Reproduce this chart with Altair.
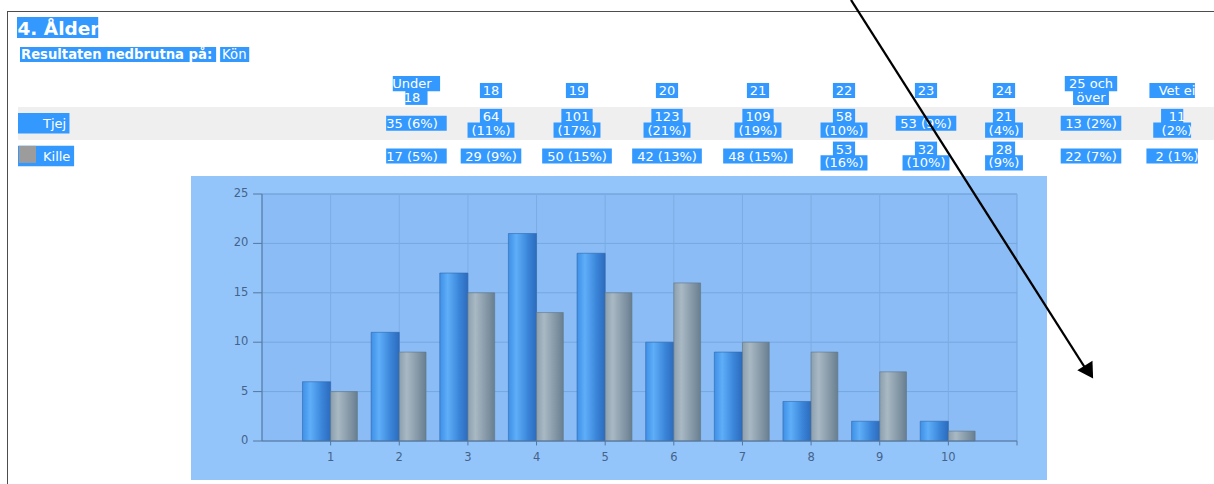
import altair as alt
import pandas as pd

# ---------------- values read from the page ----------------
ages = ["Under 18", "18", "19", "20", "21", "22", "23", "24", "25 och över", "Vet ei"]
groups = ["Tjej", "Kille"]
tjej_n = [35, 64, 101, 123, 109, 58, 53, 21, 13, 11]
tjej_pct = [6, 11, 17, 21, 19, 10, 9, 4, 2, 2]
kille_n = [17, 29, 50, 42, 48, 53, 32, 28, 22, 2]
kille_pct = [5, 9, 15, 13, 15, 16, 10, 9, 7, 1]
chart_categories = [1, 2, 3, 4, 5, 6, 7, 8, 9, 10]
y_ticks = [0, 5, 10, 15, 20, 25]

title_text = "4. Ålder"
subtitle_label = "Resultaten nedbrutna på:"
subtitle_value = "Kön"

# ---------------- layout (how the page wraps and places things) ----------------
tjej_wrap = [False, True, True, True, True, True, False, True, False, True]
kille_wrap = [False, False, False, False, False, True, True, True, False, False]
col_centers = [412, 491, 577, 667, 758, 844, 926, 1004, 1091, 1177]

FONT = "DejaVu Sans"
SEL = "#3399ff"
TFS = 13  # table font size

ADV = {c: 0.636 for c in "0123456789"}
ADV.update({" ": 0.318, "(": 0.39, ")": 0.39, "%": 0.95, "U": 0.732, "n": 0.634,
            "d": 0.635, "e": 0.615, "r": 0.411, "o": 0.612, "c": 0.55, "h": 0.634,
            "ö": 0.612, "v": 0.592, "V": 0.684, "t": 0.392, "i": 0.278, "T": 0.611,
            "j": 0.278, "K": 0.656, "l": 0.278, "å": 0.613, "p": 0.635, ":": 0.337,
            "R": 0.695, "s": 0.521, "u": 0.634, "a": 0.613, "b": 0.635, "Å": 0.684,
            ".": 0.318})


def text_width(s, size, bold=False):
    return sum(ADV.get(ch, 0.62) for ch in s) * size * (1.13 if bold else 1.0)


# ---------------- table rows ----------------
LINE = 0.21
HALF = 0.23
rows = []


def add_cell(col, row, lines):
    k = len(lines)
    for j, s in enumerate(lines):
        off = 0.0 if k == 1 else (-LINE if j == 0 else LINE)
        rows.append(dict(col=col, yv=row + off, ya=row + off - HALF, yb=row + off + HALF,
                         text=s, w=text_width(s, TFS) * 1.1 + 4))


def count_lines(n, p, wrap):
    return [f"{n}", f"({p}%)"] if wrap else [f"{n} ({p}%)"]


for i, a in enumerate(ages):
    add_cell(i, 0, a.rsplit(" ", 1) if len(a) > 6 else [a])
    add_cell(i, 1, count_lines(tjej_n[i], tjej_pct[i], tjej_wrap[i]))
    add_cell(i, 2, count_lines(kille_n[i], kille_pct[i], kille_wrap[i]))
table = pd.DataFrame(rows)

legend = pd.DataFrame({"group": groups, "row": [1, 2]})
legend["ya"] = legend["row"] - 0.31
legend["yb"] = legend["row"] + 0.31
legend["sa"] = legend["row"] - 0.31
legend["sb"] = legend["row"] + 0.21
legend["x0"] = 18
legend["tx"] = 43
legend["x1"] = [43 + text_width(g, TFS) * 1.1 + 1 for g in groups]

bars = pd.DataFrame({"cat": chart_categories * 2,
                     "pct": tjej_pct + kille_pct,
                     "group": ["Tjej"] * 10 + ["Kille"] * 10})


# ---------------- scales ----------------
def XS():
    return alt.Scale(domain=[0, 11], range=[262, 1017], nice=False, zero=False)


def YS():
    return alt.Scale(domain=[0, 25], range=[441, 194], nice=False, zero=False)


def TX():
    return alt.Scale(domain=list(range(10)), range=col_centers, nice=False, zero=False)


def TY():
    return alt.Scale(domain=[0, 2], range=[90.5, 156], nice=False, zero=False)


one = alt.Data(values=[{}])
layers = []

# page frame
layers.append(alt.Chart(one).mark_rule(color="#4d4d4d", strokeWidth=1).encode(
    x=alt.value(7), x2=alt.value(1214), y=alt.value(11.5)))
layers.append(alt.Chart(one).mark_rule(color="#4d4d4d", strokeWidth=1).encode(
    x=alt.value(7.5), y=alt.value(11), y2=alt.value(484)))

# Tjej row background
layers.append(alt.Chart(one).mark_rect(color="#efefef").encode(
    x=alt.value(18), x2=alt.value(1214), y=alt.value(107), y2=alt.value(140)))

# title + subtitle (selected text)
tw = text_width(title_text, 18, bold=True)
layers.append(alt.Chart(one).mark_rect(color=SEL).encode(
    x=alt.value(17), x2=alt.value(17 + tw + 2), y=alt.value(17), y2=alt.value(38)))
layers.append(alt.Chart(one).mark_text(text=title_text, font=FONT, fontSize=18.5, fontWeight="bold",
                                       color="white", align="left", baseline="middle").encode(
    x=alt.value(17.5), y=alt.value(28.5)))
SFS = 13.2
sw = text_width(subtitle_label, SFS, bold=True)
layers.append(alt.Chart(one).mark_rect(color=SEL).encode(
    x=alt.value(20), x2=alt.value(20 + sw + 5), y=alt.value(47), y2=alt.value(62)))
layers.append(alt.Chart(one).mark_text(text=subtitle_label, font=FONT, fontSize=SFS, fontWeight="bold",
                                       color="white", align="left", baseline="middle").encode(
    x=alt.value(21), y=alt.value(55)))
kx = 20 + sw + 9
kw = text_width(subtitle_value, SFS)
layers.append(alt.Chart(one).mark_rect(color=SEL).encode(
    x=alt.value(kx), x2=alt.value(kx + kw + 4), y=alt.value(47), y2=alt.value(62)))
layers.append(alt.Chart(one).mark_text(text=subtitle_value, font=FONT, fontSize=SFS,
                                       color="white", align="left", baseline="middle").encode(
    x=alt.value(kx + 2), y=alt.value(55)))

# table highlight + text
layers.append(alt.Chart(table).mark_bar(orient="vertical", color=SEL).encode(
    x=alt.X("col:Q", scale=TX(), axis=None),
    y=alt.Y("ya:Q", scale=TY(), axis=None), y2=alt.Y2("yb"),
    size=alt.Size("w:Q", scale=None, legend=None)))
layers.append(alt.Chart(table).mark_text(font=FONT, fontSize=TFS, color="white",
                                         align="center", baseline="middle", dy=0.5).encode(
    x=alt.X("col:Q", scale=TX(), axis=None),
    y=alt.Y("yv:Q", scale=TY(), axis=None),
    text="text:N"))

# legend (row labels)
layers.append(alt.Chart(legend).mark_rect(color=SEL).encode(
    x=alt.X("x0:Q", scale=None, axis=None), x2=alt.X2("x1"),
    y=alt.Y("ya:Q", scale=TY(), axis=None), y2=alt.Y2("yb")))
layers.append(alt.Chart(legend).transform_filter(alt.datum.group == "Kille").mark_rect(color="#9c9c9c").encode(
    x=alt.value(19), x2=alt.value(36),
    y=alt.Y("sa:Q", scale=TY(), axis=None), y2=alt.Y2("sb")))
layers.append(alt.Chart(legend).mark_text(font=FONT, fontSize=TFS, color="white",
                                          align="left", baseline="middle", dy=0.5).encode(
    x=alt.X("tx:Q", scale=None, axis=None),
    y=alt.Y("row:Q", scale=TY(), axis=None),
    text="group:N"))

# chart box
layers.append(alt.Chart(one).mark_rect(color="#94c5fa").encode(
    x=alt.value(191), x2=alt.value(1047), y=alt.value(176), y2=alt.value(480)))
plot_area = pd.DataFrame({"x0": [0], "x1": [11], "y0": [0], "y1": [25]})
layers.append(alt.Chart(plot_area).mark_rect(fill="#8bbcf5", stroke="#74a5de", strokeWidth=1).encode(
    x=alt.X("x0:Q", scale=XS(), axis=None), x2=alt.X2("x1"),
    y=alt.Y("y0:Q", scale=YS(), axis=None), y2=alt.Y2("y1")))

hgrid = pd.DataFrame({"v": y_ticks[1:]})
layers.append(alt.Chart(hgrid).transform_calculate(xa="0", xb="11").mark_rule(
    color="#76a7df", strokeWidth=1).encode(
    x=alt.X("xa:Q", scale=XS(), axis=None), x2=alt.X2("xb"),
    y=alt.Y("v:Q", scale=YS(), axis=None)))
vgrid = pd.DataFrame({"c": chart_categories})
layers.append(alt.Chart(vgrid).transform_calculate(ya="0", yb="25").mark_rule(
    color="#7cace3", strokeWidth=1).encode(
    x=alt.X("c:Q", scale=XS(), axis=None),
    y=alt.Y("ya:Q", scale=YS(), axis=None), y2=alt.Y2("yb")))

# bars
blue_grad = alt.Gradient(gradient="linear", x1=0, x2=1, y1=0, y2=0, stops=[
    alt.GradientStop(color="#3f8fe6", offset=0),
    alt.GradientStop(color="#5eaef9", offset=0.28),
    alt.GradientStop(color="#3a84d8", offset=0.7),
    alt.GradientStop(color="#2c6bbd", offset=1)])
gray_grad = alt.Gradient(gradient="linear", x1=0, x2=1, y1=0, y2=0, stops=[
    alt.GradientStop(color="#8c9fae", offset=0),
    alt.GradientStop(color="#a9b9c4", offset=0.28),
    alt.GradientStop(color="#8497a6", offset=0.7),
    alt.GradientStop(color="#687f90", offset=1)])

layers.append(alt.Chart(bars).transform_filter(alt.datum.group == "Tjej").transform_calculate(
    x0="datum.cat - 0.41", x1="datum.cat", base="0").mark_bar(
    fill=blue_grad, stroke="#2f68ad", strokeWidth=0.6).encode(
    x=alt.X("x0:Q", scale=XS(), axis=None), x2=alt.X2("x1"),
    y=alt.Y("pct:Q", scale=YS(), axis=None), y2=alt.Y2("base")))
layers.append(alt.Chart(bars).transform_filter(alt.datum.group == "Kille").transform_calculate(
    x0="datum.cat", x1="datum.cat + 0.39", base="0").mark_bar(
    fill=gray_grad, stroke="#5f7585", strokeWidth=0.6).encode(
    x=alt.X("x0:Q", scale=XS(), axis=None), x2=alt.X2("x1"),
    y=alt.Y("pct:Q", scale=YS(), axis=None), y2=alt.Y2("base")))

# axes
AX = "#54779f"
LAB = "#44638a"
layers.append(alt.Chart(plot_area).mark_rule(color=AX, strokeWidth=1).encode(
    x=alt.X("x0:Q", scale=XS(), axis=None),
    y=alt.Y("y0:Q", scale=YS(), axis=None), y2=alt.Y2("y1")))
layers.append(alt.Chart(plot_area).mark_rule(color=AX, strokeWidth=1).encode(
    x=alt.X("x0:Q", scale=XS(), axis=None), x2=alt.X2("x1"),
    y=alt.Y("y0:Q", scale=YS(), axis=None)))
yt = pd.DataFrame({"v": y_ticks})
layers.append(alt.Chart(yt).transform_calculate(xa="-0.13", xb="0").mark_rule(color=AX, strokeWidth=1).encode(
    x=alt.X("xa:Q", scale=XS(), axis=None), x2=alt.X2("xb"),
    y=alt.Y("v:Q", scale=YS(), axis=None)))
layers.append(alt.Chart(yt).transform_calculate(xa="-0.2").mark_text(
    font=FONT, fontSize=11.5, color=LAB, align="right", baseline="middle").encode(
    x=alt.X("xa:Q", scale=XS(), axis=None),
    y=alt.Y("v:Q", scale=YS(), axis=None), text="v:Q"))
xt = pd.DataFrame({"c": chart_categories + [11]})
layers.append(alt.Chart(xt).transform_calculate(ya="0", yb="-0.45").mark_rule(color=AX, strokeWidth=1).encode(
    x=alt.X("c:Q", scale=XS(), axis=None),
    y=alt.Y("ya:Q", scale=YS(), axis=None), y2=alt.Y2("yb")))
layers.append(alt.Chart(vgrid).transform_calculate(ya="-1.7").mark_text(
    font=FONT, fontSize=11.5, color=LAB, align="center", baseline="middle").encode(
    x=alt.X("c:Q", scale=XS(), axis=None),
    y=alt.Y("ya:Q", scale=YS(), axis=None), text="c:Q"))

# annotation arrow
layers.append(alt.Chart(one).mark_rule(color="black", strokeWidth=2.3).encode(
    x=alt.value(851), y=alt.value(0), x2=alt.value(1089), y2=alt.value(374)))
layers.append(alt.Chart(one).mark_point(shape="triangle-up", angle=148, filled=True, size=320,
                                        color="black", opacity=1).encode(
    x=alt.value(1089), y=alt.value(372)))

chart = alt.layer(*layers).resolve_scale(x="independent", y="independent").properties(
    width=1214, height=484, autosize=alt.AutoSizeParams(type="none"), padding=0,
    background="white").configure_view(strokeWidth=0)

chart.save("out.html", embed_options={"renderer": "svg", "actions": False})
